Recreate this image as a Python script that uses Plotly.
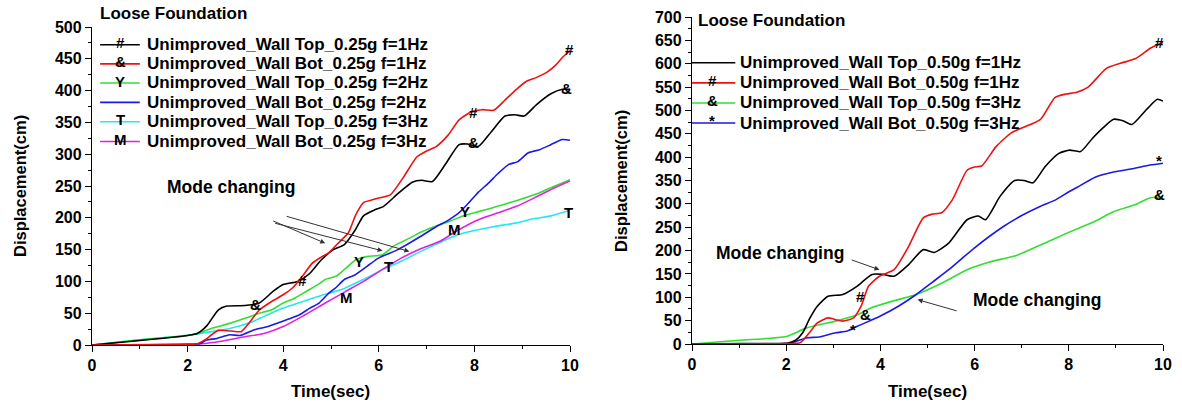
import plotly.graph_objects as go

# ---------------- Left panel data (0.25g) ----------------
L_top1_t = [0, 1, 2, 2.2, 2.4, 2.64, 2.8, 3.2, 3.5, 3.8, 4.0, 4.3, 4.55, 4.8, 5.05, 5.28, 5.5, 5.68, 5.9, 6.1,
            6.4, 6.7, 6.9, 7.12, 7.4, 7.68, 7.85, 8.08, 8.35, 8.64, 8.85, 9.04, 9.3, 9.6, 9.84, 10]
L_top1_v = [0, 7, 15, 18, 30, 55, 61, 62, 66, 85, 95, 100, 112, 134, 150, 158, 180, 203, 212, 218,
            238, 256, 259, 257, 285, 315, 316, 312, 335, 360, 362, 360, 378, 395, 402, 402]

L_bot1_t = [0, 2.0, 2.2, 2.4, 2.64, 2.9, 3.12, 3.28, 3.5, 3.75, 4.0, 4.2, 4.4, 4.6, 4.75, 4.95, 5.12, 5.36, 5.52, 5.68,
            5.85, 6.0, 6.24, 6.5, 6.8, 7.0, 7.2, 7.45, 7.68, 7.95, 8.16, 8.4, 8.64, 8.88, 9.1, 9.28, 9.52, 9.7, 9.84, 10]
L_bot1_v = [0, 1, 2, 10, 23, 22, 21, 34, 55, 68, 79, 90, 108, 128, 136, 145, 158, 176, 205, 224,
            228, 231, 236, 262, 296, 305, 312, 330, 354, 367, 370, 369, 385, 402, 415, 420, 429, 440, 452, 463]

L_top2_t = [0, 1, 2.0, 2.2, 2.5, 2.88, 3.2, 3.5, 3.75, 4.0, 4.25, 4.5, 4.75, 4.88, 5.1, 5.3, 5.52, 5.75, 6.08, 6.3,
            6.64, 6.9, 7.2, 7.5, 7.76, 8.0, 8.25, 8.48, 8.75, 9.0, 9.28, 9.5, 9.75, 10]
L_top2_v = [0, 8, 15, 18, 26, 34, 42, 50, 55, 66, 74, 85, 96, 103, 108, 120, 134, 139, 142, 155,
            168, 178, 187, 195, 203, 208, 213, 218, 224, 230, 237, 244, 252, 260]

L_bot2_t = [0, 2.0, 2.25, 2.4, 2.6, 2.88, 3.1, 3.4, 3.68, 3.9, 4.16, 4.35, 4.56, 4.75, 4.96, 5.1, 5.28, 5.5, 5.76, 6.0,
            6.4, 6.88, 7.2, 7.45, 7.68, 7.9, 8.08, 8.3, 8.5, 8.72, 8.9, 9.12, 9.36, 9.6, 9.84, 10]
L_bot2_v = [0, 1, 2, 8, 10, 16, 15, 24, 29, 35, 42, 48, 58, 66, 82, 90, 103, 110, 124, 137,
            150, 171, 186, 196, 208, 225, 240, 255, 270, 284, 288, 302, 307, 315, 323, 322]

L_top3_t = [0, 1, 2.08, 2.5, 2.88, 3.3, 3.6, 4.0, 4.4, 4.8, 5.28, 5.7, 6.1, 6.48, 6.9, 7.3, 7.68, 8.0, 8.4, 8.88,
            9.2, 9.6, 10]
L_top3_v = [0, 8, 16, 21, 26, 35, 45, 58, 68, 78, 89, 104, 119, 132, 148, 162, 174, 180, 186, 192,
            198, 203, 212]

L_bot3_t = [0, 2.0, 2.3, 2.7, 3.2, 3.6, 4.0, 4.4, 4.88, 5.3, 5.68, 6.1, 6.48, 6.9, 7.28, 7.6, 8.08, 8.5, 8.88, 9.3,
            9.7, 10]
L_bot3_v = [0, 1, 2, 6, 13, 18, 29, 45, 66, 84, 100, 120, 137, 152, 163, 178, 197, 208, 218, 233,
            248, 258]

L_names = ["Unimproved_Wall Top_0.25g f=1Hz", "Unimproved_Wall Bot_0.25g f=1Hz",
           "Unimproved_Wall Top_0.25g f=2Hz", "Unimproved_Wall Bot_0.25g f=2Hz",
           "Unimproved_Wall Top_0.25g f=3Hz", "Unimproved_Wall Bot_0.25g f=3Hz"]
L_symbols = ["#", "&", "Y", "", "T", "M"]
L_colors = ["#000000", "#ee1111", "#33dd33", "#1a1ae6", "#22e8f0", "#e020e0"]

# curve labels (text, t, value)
L_marks_text = ["&", "#", "&", "#", "#", "&", "Y", "Y", "T", "T", "M", "M"]
L_marks_t = [3.42, 4.4, 7.98, 7.98, 9.98, 9.92, 5.58, 7.8, 6.2, 9.96, 5.32, 7.58]
L_marks_v = [64, 102, 318, 366, 464, 404, 132, 210, 124, 208, 74, 182]

# ---------------- Right panel data (0.50g) ----------------
R_top1_t = [0, 1, 2.04, 2.2, 2.35, 2.5, 2.66, 2.89, 3.2, 3.51, 3.82, 4.06, 4.29, 4.6, 4.91, 5.14, 5.45, 5.84, 6.08, 6.23,
            6.54, 6.85, 7.05, 7.24, 7.5, 7.79, 8.02, 8.25, 8.5, 8.72, 8.95, 9.15, 9.34, 9.65, 9.88, 10]
R_top1_v = [0, 1, 2, 8, 24, 55, 81, 102, 106, 124, 149, 149, 145, 170, 202, 196, 216, 266, 274, 266,
            316, 350, 350, 345, 380, 408, 415, 412, 440, 462, 481, 478, 470, 502, 524, 520]

R_bot1_t = [0, 2.0, 2.3, 2.5, 2.66, 2.89, 3.05, 3.2, 3.43, 3.59, 3.75, 3.98, 4.29, 4.6, 4.91, 5.1, 5.3, 5.53, 5.84, 6.0,
            6.15, 6.46, 6.78, 7.09, 7.4, 7.71, 7.94, 8.17, 8.41, 8.8, 9.1, 9.42, 9.73, 9.96, 10]
R_bot1_v = [0, 1, 3, 25, 45, 56, 52, 49, 56, 81, 124, 145, 159, 209, 270, 278, 281, 309, 372, 379,
            381, 423, 452, 466, 481, 528, 535, 539, 550, 590, 601, 611, 633, 644, 645]

R_top3_t = [0, 1, 2.0, 2.42, 3.05, 3.5, 3.82, 4.3, 4.76, 5.3, 5.84, 6.3, 6.9, 7.4, 8.02, 8.5, 8.95, 9.4, 9.73, 10]
R_top3_v = [0, 8, 16, 34, 49, 62, 78, 93, 106, 130, 159, 175, 190, 212, 240, 260, 283, 298, 313, 315]

R_bot3_t = [0, 2.0, 2.11, 2.42, 2.7, 3.05, 3.3, 3.51, 3.98, 4.4, 4.76, 5.1, 5.45, 6.0, 6.62, 7.0, 7.4, 7.71, 8.02, 8.17,
            8.56, 8.95, 9.34, 9.73, 10]
R_bot3_v = [0, 1, 2, 13, 15, 24, 28, 38, 59, 82, 106, 132, 159, 206, 252, 275, 295, 308, 327, 335,
            357, 368, 375, 383, 387]

R_names = ["Unimproved_Wall Top_0.50g f=1Hz", "Unimproved_Wall Bot_0.50g f=1Hz",
           "Unimproved_Wall Top_0.50g f=3Hz", "Unimproved_Wall Bot_0.50g f=3Hz"]
R_symbols = ["", "#", "&", "*"]
R_colors = ["#000000", "#ee1111", "#33dd33", "#1a1ae6"]

R_marks_text = ["#", "&", "*", "#", "*", "&"]
R_marks_t = [3.57, 3.68, 3.42, 9.92, 9.92, 9.92]
R_marks_v = [102, 63, 30, 646, 392, 320]

X_ticks = [0, 2, 4, 6, 8, 10]

FONT = "Liberation Sans, Arial, sans-serif"

fig = go.Figure()

L_series = [(L_top1_t, L_top1_v), (L_bot1_t, L_bot1_v), (L_top2_t, L_top2_v),
            (L_bot2_t, L_bot2_v), (L_top3_t, L_top3_v), (L_bot3_t, L_bot3_v)]
R_series = [(R_top1_t, R_top1_v), (R_bot1_t, R_bot1_v), (R_top3_t, R_top3_v), (R_bot3_t, R_bot3_v)]

draw_order_L = [4, 2, 5, 3, 0, 1]
for i in draw_order_L:
    t, v = L_series[i]
    fig.add_trace(go.Scatter(x=t, y=v, mode="lines", name=L_names[i], xaxis="x", yaxis="y",
                             line=dict(color=L_colors[i], width=1.6, shape="spline", smoothing=0.6),
                             showlegend=False))
draw_order_R = [2, 3, 0, 1]
for i in draw_order_R:
    t, v = R_series[i]
    fig.add_trace(go.Scatter(x=t, y=v, mode="lines", name=R_names[i], xaxis="x2", yaxis="y2",
                             line=dict(color=R_colors[i], width=1.6, shape="spline", smoothing=0.6),
                             showlegend=False))

annotations = []
shapes = []

def txt(text, x, y, xref, yref, size=15, xanchor="center", yanchor="middle", textangle=0):
    annotations.append(dict(text=text, x=x, y=y, xref=xref, yref=yref, showarrow=False,
                            xanchor=xanchor, yanchor=yanchor, textangle=textangle,
                            font=dict(family=FONT, size=size, color="black", weight="bold")))

# curve labels
for s, t, v in zip(L_marks_text, L_marks_t, L_marks_v):
    txt(s, t, v, "x", "y", size=15)
for s, t, v in zip(R_marks_text, R_marks_t, R_marks_v):
    txt(s, t, v, "x2", "y2", size=15)

# manual legends
L_leg_y = [472, 442, 412, 381.5, 351, 320]
for name, sym, col, yy in zip(L_names, L_symbols, L_colors, L_leg_y):
    shapes.append(dict(type="line", xref="x", yref="y", x0=0.17, x1=1.0, y0=yy, y1=yy,
                       line=dict(color=col, width=1.6)))
    if sym:
        txt(sym, 0.59, yy + 3, "x", "y", size=15)
    txt(name, 1.1, yy, "x", "y", size=17, xanchor="left")

R_leg_y = [602, 559, 516, 473]
for name, sym, col, yy in zip(R_names, R_symbols, R_colors, R_leg_y):
    shapes.append(dict(type="line", xref="x2", yref="y2", x0=0.0, x1=0.92, y0=yy, y1=yy,
                       line=dict(color=col, width=1.6)))
    if sym:
        txt(sym, 0.43, yy + 6, "x2", "y2", size=15)
    txt(name, 0.98, yy, "x2", "y2", size=17, xanchor="left")

# titles inside / above plots
txt("Loose Foundation", 98 / 1182, 1 - 14 / 405, "paper", "paper", size=17, xanchor="left")
txt("Loose Foundation", 0.08, 692, "x2", "y2", size=17, xanchor="left")

# Mode changing texts and arrows (left)
txt("Mode changing", 2.9, 249, "x", "y", size=17.5)
L_arrow_start = [(3.76, 196), (3.8, 192), (4.04, 203)]
L_arrow_end = [(4.88, 160), (6.08, 148), (6.64, 147)]
for (sx, sy), (ex, ey) in zip(L_arrow_start, L_arrow_end):
    annotations.append(dict(x=ex, y=ey, ax=sx, ay=sy, xref="x", yref="y", axref="x", ayref="y",
                            showarrow=True, arrowhead=2, arrowsize=1, arrowwidth=1,
                            arrowcolor="#333333", text=""))

# right
txt("Mode changing", 1.87, 195, "x2", "y2", size=17.5)
txt("Mode changing", 7.32, 95, "x2", "y2", size=17.5)
annotations.append(dict(x=3.98, y=159, ax=3.36, ay=181, xref="x2", yref="y2", axref="x2", ayref="y2",
                        showarrow=True, arrowhead=2, arrowsize=1, arrowwidth=1,
                        arrowcolor="#333333", text=""))
annotations.append(dict(x=4.79, y=95, ax=5.65, ay=70, xref="x2", yref="y2", axref="x2", ayref="y2",
                        showarrow=True, arrowhead=2, arrowsize=1, arrowwidth=1,
                        arrowcolor="#333333", text=""))

# axis titles
txt("Displacement(cm)", 20 / 1182, 1 - 186 / 405, "paper", "paper", size=16.5, textangle=-90)
txt("Displacement(cm)", 621 / 1182, 1 - 181 / 405, "paper", "paper", size=16.5, textangle=-90)
txt("Time(sec)", 330 / 1182, 1 - 391 / 405, "paper", "paper", size=17)
txt("Time(sec)", 927 / 1182, 1 - 391 / 405, "paper", "paper", size=17)

tickfont = dict(family=FONT, size=16, color="black", weight="bold")

def xax(domain, anchor):
    return dict(domain=domain, anchor=anchor, range=[0, 10], tickvals=X_ticks, automargin=False,
                ticks="outside", ticklen=6, tickwidth=1.3, tickcolor="black",
                minor=dict(dtick=1, ticks="outside", ticklen=3, tickcolor="black", tickwidth=1.2),
                showline=True, linecolor="black", linewidth=1.3, showgrid=False, zeroline=False,
                tickfont=tickfont)

def yax(domain, anchor, top):
    return dict(domain=domain, anchor=anchor, range=[0, top], dtick=50, automargin=False,
                ticks="outside", ticklen=6, tickwidth=1.3, tickcolor="black",
                minor=dict(dtick=25, ticks="outside", ticklen=3, tickcolor="black", tickwidth=1.2),
                showline=True, linecolor="black", linewidth=1.3, showgrid=False, zeroline=False,
                tickfont=tickfont)

fig.update_layout(
    width=1182, height=405,
    margin=dict(l=0, r=0, t=0, b=0, autoexpand=False),
    paper_bgcolor="white", plot_bgcolor="white",
    xaxis=xax([92 / 1182, 570 / 1182], "y"),
    yaxis=yax([1 - 345 / 405, 1 - 27 / 405], "x", 500),
    xaxis2=xax([692 / 1182, 1163 / 1182], "y2"),
    yaxis2=yax([1 - 344 / 405, 1 - 17 / 405], "x2", 700),
    annotations=annotations,
    shapes=shapes,
    showlegend=False,
)

fig.write_html("out.html", config={"displayModeBar": False},
               post_script="document.body.style.margin='0px';document.body.style.overflow='hidden';")
